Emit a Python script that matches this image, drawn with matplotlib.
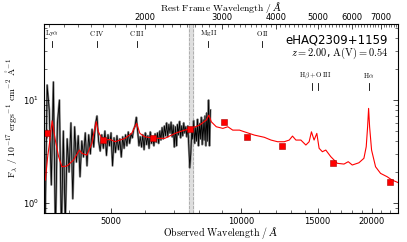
import numpy as np
import matplotlib
matplotlib.use('Agg')
import matplotlib.pyplot as plt
from matplotlib.ticker import FixedLocator, NullFormatter, FixedFormatter

plt.rcParams['mathtext.fontset'] = 'cm'
plt.rcParams['font.family'] = 'DejaVu Sans'

z = 2.00
name = 'eHAQ2309+1159'
av = 0.54

# observed spectrum (black)
spec_wave = [3520, 3560, 3600, 3640, 3680, 3720, 3760, 3800, 3840, 3880,
             3920, 3960, 4000, 4040, 4080, 4120, 4160, 4200, 4240, 4280,
             4320, 4360, 4400, 4440, 4480, 4520, 4560, 4600, 4640, 4680,
             4720, 4760, 4800, 4840, 4880, 4920, 4960, 5000, 5040, 5080,
             5120, 5160, 5200, 5240, 5280, 5320, 5360, 5400, 5440, 5480,
             5520, 5560, 5600, 5640, 5680, 5720, 5760, 5800, 5840, 5880,
             5920, 5960, 6000, 6040, 6080, 6120, 6160, 6200, 6240, 6280,
             6320, 6360, 6400, 6440, 6480, 6520, 6560, 6600, 6640, 6680,
             6720, 6760, 6800, 6840, 6880, 6920, 6960, 7000, 7040, 7080,
             7120, 7160, 7200, 7240, 7280, 7320, 7360, 7400, 7440, 7480,
             7520, 7560, 7600, 7640, 7680, 7720, 7760, 7800, 7840, 7880,
             7920, 7960, 8000, 8040, 8080, 8120, 8160, 8200, 8240, 8280,
             8320, 8360, 8400, 8440, 8480]
spec_flux = [0.5, 14.0, 8.0, 1.5, 15.0, 0.5, 6.0, 10.0, 0.5, 5.0,
             0.6, 4.2, 2.0, 6.0, 1.1, 5.5, 2.5, 4.5, 1.8, 4.0,
             2.8, 4.8, 2.3, 4.6, 3.0, 5.2, 3.5, 5.8, 7.0, 4.0,
             3.2, 4.6, 3.4, 5.0, 2.9, 4.6, 3.6, 4.8, 2.3, 4.3,
             3.1, 4.5, 3.3, 4.2, 2.8, 4.4, 3.4, 4.6, 3.6, 4.9,
             3.8, 4.7, 4.3, 5.2, 5.6, 6.8, 5.0, 3.6, 4.4, 3.5,
             4.6, 3.3, 4.8, 3.7, 4.5, 3.4, 4.9, 3.8, 4.4, 3.6,
             4.7, 3.9, 4.8, 3.8, 5.0, 4.1, 5.4, 4.2, 5.6, 4.5,
             6.0, 4.4, 5.8, 4.8, 6.1, 4.4, 5.7, 3.5, 5.5, 3.6,
             5.8, 4.6, 6.2, 4.3, 5.6, 4.5, 6.0, 4.8, 5.5, 4.4,
             5.6, 3.6, 2.2, 3.0, 5.0, 4.2, 6.3, 3.8, 5.4, 4.0,
             6.5, 3.6, 5.9, 4.2, 6.8, 3.7, 6.4, 4.1, 7.0, 3.6,
             7.5, 4.0, 10.0, 3.6, 8.0]

# model spectrum (red)
model_wave = [3526, 3570, 3621, 3655, 3718, 3784, 3851, 3955, 4095, 4183,
              4228, 4282, 4397, 4515, 4577, 4622, 4674, 4760, 4843, 4974,
              5107, 5383, 5580, 5728, 5829, 5984, 6309, 6653, 6896, 7080,
              7397, 7661, 8010, 8298, 8414, 8521, 8750, 9062, 9303, 9549,
              9900, 10162, 10717, 11297, 11704, 12122, 12559, 12897, 13122, 13363,
              13719, 14088, 14336, 14513, 14718, 14933, 15117, 15381, 15663, 16084,
              16655, 17254, 17649, 18030, 18679, 19183, 19419, 19563, 19667, 19771,
              19980, 20408, 20958, 21706, 22280, 22757, 23000]
model_flux = [1.67, 2.82, 4.40, 6.3, 4.09, 2.82, 2.25, 2.29, 2.61, 3.04,
              3.27, 3.04, 2.92, 3.80, 5.11, 6.16, 4.92, 4.25, 4.09, 4.15,
              3.94, 4.25, 4.75, 5.94, 4.75, 4.40, 4.25, 4.25, 4.57, 4.81,
              5.11, 5.31, 5.72, 6.40, 7.15, 6.16, 5.51, 5.31, 5.51, 5.11,
              5.11, 4.92, 4.57, 4.35, 4.09, 3.94, 3.94, 4.09, 4.47, 4.09,
              4.09, 3.66, 3.94, 4.92, 4.09, 4.75, 3.40, 3.15, 3.27, 2.82,
              2.43, 2.39, 2.52, 2.34, 2.46, 2.72, 3.52, 5.51, 8.31, 5.51,
              3.27, 2.25, 1.94, 1.80, 1.67, 1.61, 1.58]

# photometry (red squares)
phot_wave = [3560, 4790, 6245, 7620, 9140, 10305, 12425, 16270, 21980]
phot_flux = [4.78, 4.09, 4.28, 5.19, 6.07, 4.35, 3.60, 2.46, 1.61]
phot_err = [0.5, 0.15, 0.12, 0.12, 0.2, 0.12, 0.1, 0.1, 0.08]

# emission lines (rest frame): upper row and lower row
line_names = [r'$\mathrm{Ly}\alpha$', r'$\mathrm{C\,IV}$', r'$\mathrm{C\,III}$',
              r'$\mathrm{Mg\,II}$', r'$\mathrm{O\,II}$']
line_rest = [1216, 1549, 1909, 2798, 3727]
hb_oiii_rest = [4861, 5007]
ha_rest = 6563

fig = plt.figure(figsize=(4.07, 2.42), dpi=100)
ax = fig.add_axes([0.108, 0.12, 0.870, 0.781])

ax.axvspan(7570, 7720, color='0.87', zorder=0)
ax.axvline(7570, color='0.65', ls='--', lw=0.6, zorder=0)
ax.axvline(7720, color='0.65', ls='--', lw=0.6, zorder=0)

ax.plot(spec_wave, spec_flux, color='0.55', lw=1.6, zorder=1)
ax.plot(spec_wave, spec_flux, color='k', lw=0.6, zorder=2)
ax.plot(model_wave, model_flux, color='red', lw=0.8, zorder=3)
ax.errorbar(phot_wave, phot_flux, yerr=phot_err, fmt='s', color='red',
            mec='#aa0000', ms=3.8, mew=0.4, elinewidth=0.5, ecolor='#aa0000', zorder=4)

ax.set_xscale('log')
ax.set_yscale('log')
ax.set_xlim(3500, 23000)
ax.set_ylim(0.8, 55)

ax.xaxis.set_major_locator(FixedLocator([5000, 10000, 15000, 20000]))
ax.xaxis.set_major_formatter(FixedFormatter(['5000', '10000', '15000', '20000']))
ax.xaxis.set_minor_locator(FixedLocator(list(range(4000, 23000, 1000))))
ax.xaxis.set_minor_formatter(NullFormatter())
ax.tick_params(which='both', direction='in', top=False, right=True, labelsize=6)
ax.tick_params(which='major', length=3.5, width=0.5)
ax.tick_params(which='minor', length=2, width=0.4)
ax.tick_params(axis='x', pad=3)
for s in ax.spines.values():
    s.set_linewidth(0.7)

ax.set_ylabel(r'$\mathrm{F}_\lambda\ /\ 10^{-17}\ \mathrm{ergs}^{-1}\ \mathrm{cm}^{-2}\ \mathring{\mathrm{A}}^{-1}$',
              fontsize=7, labelpad=2)

top = ax.twiny()
top.set_xscale('log')
top.set_xlim(3500 / (1 + z), 23000 / (1 + z))
top.xaxis.set_major_locator(FixedLocator([2000, 3000, 4000, 5000, 6000, 7000]))
top.xaxis.set_major_formatter(FixedFormatter(['2000', '3000', '4000', '5000', '6000', '7000']))
top.xaxis.set_minor_locator(FixedLocator(list(range(1200, 7700, 100))))
top.xaxis.set_minor_formatter(NullFormatter())
top.tick_params(which='both', direction='in', labelsize=6, pad=1.5)
top.tick_params(which='major', length=3.5, width=0.5)
top.tick_params(which='minor', length=2, width=0.4)

# axis titles placed explicitly (Angstrom sign as plain italic serif text)
fig.text(0.543, 0.037, r'$\mathrm{Observed\ Wavelength}\ /\ $Å',
         fontsize=7.2, ha='center', va='center', family='DejaVu Serif', style='italic')
fig.text(0.543, 0.970, r'$\mathrm{Rest\ Frame\ Wavelength}\ /\ $Å',
         fontsize=7.0, ha='center', va='center', family='DejaVu Serif', style='italic')

trans = ax.get_xaxis_transform()
for nm, lr in zip(line_names, line_rest):
    ax.text(lr * (1 + z), 0.952, nm, transform=trans, ha='center', va='center', fontsize=5)
    ax.plot([lr * (1 + z)] * 2, [0.878, 0.91], transform=trans, color='k', lw=0.6)
hb_obs = [w * (1 + z) for w in hb_oiii_rest]
ax.text(np.sqrt(hb_obs[0] * hb_obs[1]), 0.725, r'$\mathrm{H}\beta+\mathrm{O\,III}$',
        transform=trans, ha='center', va='center', fontsize=5)
for w in hb_obs:
    ax.plot([w, w], [0.651, 0.688], transform=trans, color='k', lw=0.6)
ax.text(ha_rest * (1 + z), 0.725, r'$\mathrm{H}\alpha$', transform=trans,
        ha='center', va='center', fontsize=5)
ax.plot([ha_rest * (1 + z)] * 2, [0.651, 0.688], transform=trans, color='k', lw=0.6)

ax.text(0.972, 0.915, name, transform=ax.transAxes, ha='right', va='center', fontsize=8.5)
ax.text(0.972, 0.847, r'$z = %.2f$, $\mathrm{A(V)} = %.2f$' % (z, av),
        transform=ax.transAxes, ha='right', va='center', fontsize=7.5)

fig.savefig('out.png', dpi=100)
